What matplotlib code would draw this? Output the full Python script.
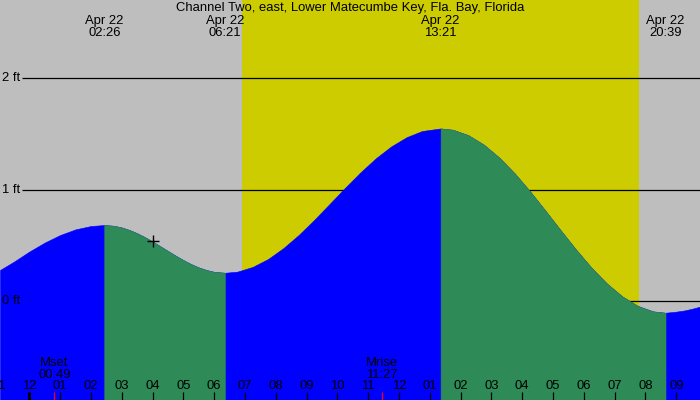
import matplotlib
matplotlib.use("Agg")
import matplotlib.pyplot as plt
import matplotlib.transforms as mtransforms

plt.rcParams['font.family'] = ['Liberation Sans', 'DejaVu Sans']

# ---- data (hours from midnight Apr 22) ----
title = "Channel Two, east, Lower Matecumbe Key, Fla. Bay, Florida"
event_times = ["02:26", "06:21", "13:21", "20:39"]
event_ft = [0.68, 0.25, 1.55, -0.11]
event_date = "Apr 22"

# water level
reading_hours = [-0.95, -0.5, 0.0, 0.5, 1.0, 1.5, 2.0, 2.433,
                 2.75, 3.0, 3.25, 3.5, 3.75, 4.0, 4.25, 4.5, 4.75, 5.0,
                 5.25, 5.5, 5.75, 6.0, 6.35,
                 6.75, 7.25, 7.75, 8.25, 8.75, 9.25, 9.75, 10.25, 10.75,
                 11.25, 11.75, 12.25, 12.75, 13.35,
                 13.75, 14.25, 14.75, 15.25, 15.75, 16.25, 16.75, 17.25,
                 17.75, 18.25, 18.75, 19.25, 19.75, 20.25, 20.65,
                 21.0, 21.25, 21.5, 21.77]
reading_ft = [0.275, 0.350, 0.441, 0.522, 0.590, 0.641, 0.671, 0.680,
              0.673, 0.658, 0.635, 0.606, 0.571, 0.531, 0.489, 0.446, 0.404, 0.364,
              0.328, 0.298, 0.275, 0.258, 0.250,
              0.260, 0.303, 0.374, 0.473, 0.592, 0.727, 0.871, 1.016, 1.155,
              1.282, 1.389, 1.472, 1.527, 1.550,
              1.538, 1.489, 1.404, 1.288, 1.146, 0.984, 0.809, 0.631,
              0.457, 0.294, 0.152, 0.036, -0.049, -0.098, -0.110,
              -0.100, -0.090, -0.075, -0.055]

sunrise, sunset = "06:54", "19:47"
moon_events = [("Mset", "00:49"), ("Mrise", "11:27")]
now_time, now_ft = "04:00", 0.535
grid_ft = [0, 1, 2]
hour_ticks = list(range(-1, 22))

# ---- helpers ----
def hrs(s):
    h, m = s.split(":")
    return int(h) + int(m) / 60.0

C_BG = "#BEBEBE"
C_DAY = "#CCCC00"
C_RISE = "#0000FF"
C_FALL = "#2E8B57"
FS = 9.4

fig = plt.figure(figsize=(7, 4), dpi=100)
fig.patch.set_facecolor(C_BG)
ax = fig.add_axes([0, 0, 1, 1])
ax.set_facecolor(C_BG)
XMIN, XMAX = -0.951, 21.77
YMIN, YMAX = -0.896, 2.707
ax.set_xlim(XMIN, XMAX)
ax.set_ylim(YMIN, YMAX)
ax.axis("off")

# daylight
ax.axvspan(hrs(sunrise), hrs(sunset), color=C_DAY, lw=0, zorder=1)

# grid lines
x_grid_start = XMIN + 22 / 700 * (XMAX - XMIN)
for g in grid_ft:
    ax.plot([x_grid_start, XMAX], [g, g], color="black", lw=0.9, zorder=2,
            solid_capstyle="butt")
    ax.text(XMIN + 2 / 700 * (XMAX - XMIN), g, f"{g} ft", ha="left", va="center",
            fontsize=FS, color="black", zorder=6)

# water: whole area in the rising colour, falling stretches on top
ax.fill_between(reading_hours, reading_ft, YMIN, color=C_RISE, lw=0.4,
                edgecolor=C_RISE, zorder=3)
bounds = [XMIN] + [hrs(t) for t in event_times] + [XMAX]
for i in range(len(bounds) - 1):
    a, b = bounds[i], bounds[i + 1]
    idx = [k for k, x in enumerate(reading_hours) if a - 0.01 <= x <= b + 0.01]
    xs = [reading_hours[k] for k in idx]
    ys = [reading_ft[k] for k in idx]
    if i < len(event_ft):
        rising = event_ft[i] > (event_ft[i - 1] if i > 0 else event_ft[1])
    else:
        rising = event_ft[-1] < event_ft[-2]
    if not rising:
        ax.fill_between(xs, ys, YMIN, color=C_FALL, lw=0.4,
                        edgecolor=C_FALL, zorder=4)

# current-time marker
ax.plot([hrs(now_time)], [now_ft], marker="+", color="black", ms=9, mew=1.0,
        zorder=5)

trans = mtransforms.blended_transform_factory(ax.transData, ax.transAxes)

# hour ticks and labels
for h in hour_ticks:
    lab = f"{(h % 12) or 12:02d}" if (h % 12) != 0 else "12"
    lw = 2.2 if h % 24 == 0 else 0.9
    ax.plot([h, h], [0, 0.02], color="black", lw=lw, transform=trans,
            zorder=6, solid_capstyle="butt")
    ax.text(h, 0.034, lab, transform=trans, ha="center", va="center",
            fontsize=FS, color="black", zorder=6)

# moon events
for name, t in moon_events:
    ax.plot([hrs(t), hrs(t)], [0, 0.02], color="red", lw=0.9, transform=trans,
            zorder=7, solid_capstyle="butt")
    ax.text(hrs(t), 0.078, f"{name}\n{t}", transform=trans, ha="center",
            va="center", fontsize=FS, color="black", linespacing=0.95, zorder=6)

# tide event labels
for t in event_times:
    ax.text(hrs(t), 0.9330, f"{event_date}\n{t}", transform=trans, ha="center",
            va="center", fontsize=FS, color="black", linespacing=0.95, zorder=6)

ax.text(0.5, 0.980, title, transform=ax.transAxes, ha="center", va="center",
        fontsize=FS, color="black", zorder=6)

fig.savefig("out.png", dpi=100, facecolor=C_BG)
